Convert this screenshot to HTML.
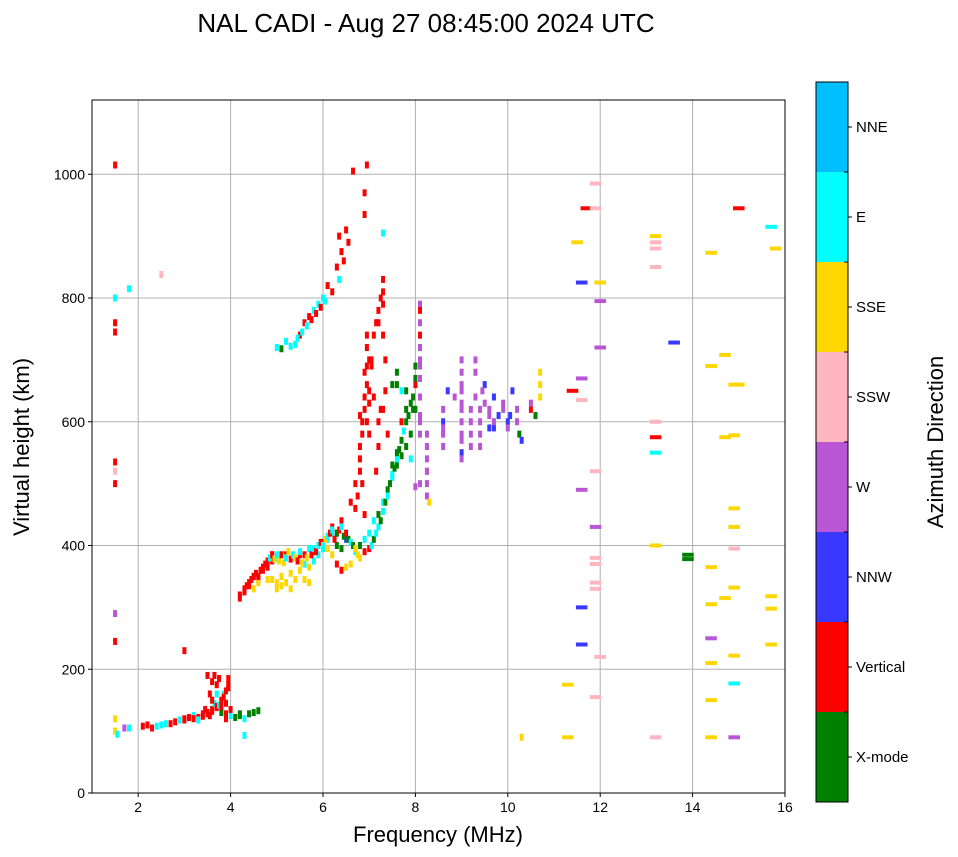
<!DOCTYPE html>
<html><head><meta charset="utf-8"><style>
body{margin:0;background:#fff;}
svg{display:block;font-family:"Liberation Sans",sans-serif;}
</style></head><body>
<svg id="chart" width="958" height="857"></svg>
<script>
const freqs=[1.5,1.5,1.55,1.7,1.8,2.1,2.2,2.4,2.6,2.8,2.9,3.0,3.1,3.2,3.3,3.4,3.5,3.6,3.65,3.7,3.8,3.85,3.9,3.95,3.95,3.7,3.5,3.8,4.0,4.2,4.4,4.6,4.3,3.9,4.0,3.6,3.55,3.0,1.5,1.5,4.3,
4.2,4.3,4.4,4.5,4.6,4.7,4.8,4.9,5.0,5.1,5.2,5.3,5.4,5.5,5.6,5.7,5.8,5.9,6.0,6.1,6.2,6.3,6.4,6.5,6.6,6.7,6.8,6.9,7.0,7.1,7.2,7.3,7.4,7.5,7.6,7.7,7.8,7.9,8.0,8.0,4.9,5.2,5.5,5.8,6.0,6.2,6.4,6.6,6.7,6.8,6.85,6.9,6.95,7.0,7.1,7.2,7.3,7.4,6.5,6.3,4.5,4.6,4.9,5.0,
5.0,5.2,5.4,5.5,5.6,5.7,5.8,5.9,6.0,6.1,6.3,6.4,6.5,6.65,6.9,6.9,7.3,7.3,7.2,7.0,6.95,7.6,7.7,7.5,7.8,
8.1,8.1,8.1,8.1,8.1,8.1,8.25,8.25,8.25,8.3,8.0,8.6,8.6,8.6,8.7,9.0,9.0,9.0,9.0,9.0,9.2,9.2,9.3,9.4,9.4,9.5,9.6,9.7,9.7,9.9,10.0,10.1,10.2,10.25,10.5,10.7,10.7,10.7,11.4,11.6,11.6,
11.5,11.7,11.9,11.9,12.0,12.0,12.0,11.6,11.6,11.9,11.9,11.9,11.9,11.9,11.9,11.6,11.6,12.0,11.9,11.3,11.3,10.3,13.2,13.2,13.2,13.2,13.2,13.2,13.2,13.2,13.2,13.6,13.9,13.9,14.4,14.4,14.7,14.9,14.9,14.7,14.9,14.9,14.9,14.4,14.9,14.4,14.7,14.4,14.9,14.4,14.9,14.4,14.4,14.9,15.0,15.7,15.8,15.7,15.7,15.7,15.0,
1.5,1.5,1.5,1.5,1.5,1.5,1.5,2.5,1.8,6.95,7.3,
// extra dense E trace
2.3,2.5,2.7,3.0,3.2,3.3,3.4,3.5,3.6,3.7,3.75,3.8,3.85,3.9,3.95,3.6,3.7,3.8,3.9,3.45,3.55,4.1,4.2,4.5,3.65,3.75,
// extra F lower
4.2,4.3,4.35,4.4,4.45,4.5,4.55,4.6,4.65,4.7,4.75,4.8,4.85,4.9,4.95,5.0,5.05,5.1,5.15,5.2,5.25,5.3,5.35,5.4,5.45,5.5,5.55,5.6,5.65,5.7,5.75,5.8,5.85,5.9,5.95,6.0,6.05,6.1,6.15,6.2,6.25,6.3,6.35,6.4,6.45,6.5,6.55,6.6,6.65,6.7,6.75,6.8,4.8,5.0,5.1,5.3,5.6,5.7,6.1,6.2,6.3,6.4,
// red columns
6.7,6.75,6.8,6.8,6.85,6.9,6.9,6.95,6.95,7.0,7.0,6.85,6.9,7.05,7.1,7.15,7.2,7.25,7.3,7.3,7.35,7.35,7.25,7.2,7.15,6.8,6.95,7.05,
// green/cyan trace
6.9,7.0,7.05,7.1,7.15,7.2,7.25,7.3,7.35,7.4,7.45,7.5,7.55,7.6,7.65,7.7,7.75,7.8,7.85,7.9,7.95,8.0,7.6,7.7,7.8,7.9,7.95,8.0,7.5,7.6,
// upper trace
5.1,5.3,5.45,5.55,5.65,5.75,5.85,5.95,6.05,6.2,6.35,6.45,6.55,6.35,
// purple clusters
8.1,8.1,8.1,8.1,8.1,8.1,8.1,8.25,8.25,8.25,8.25,8.25,8.6,8.6,8.85,9.0,9.0,9.0,9.0,9.0,9.0,9.2,9.2,9.3,9.3,9.4,9.4,9.45,9.5,9.6,9.6,9.7,9.8,9.9,10.0,10.05,10.2,10.3,10.5,10.6];
const heights=[100,120,95,105,105,108,110,108,112,115,118,120,122,125,122,128,130,135,145,140,150,160,145,170,185,175,190,130,125,125,128,133,120,120,135,150,160,230,245,290,93,
320,330,340,350,345,360,365,375,380,350,340,355,345,360,370,365,375,385,395,410,420,400,395,365,370,390,400,410,420,440,450,470,490,510,530,545,560,580,620,660,385,385,385,390,405,430,440,470,500,540,580,620,660,700,640,600,620,580,410,420,330,340,345,330,
720,730,725,740,760,770,780,790,800,820,850,875,910,1005,970,935,830,790,760,650,690,680,650,660,620,
790,760,720,690,640,610,560,520,480,470,495,600,580,560,650,680,650,620,580,550,600,560,700,620,580,660,610,640,590,630,600,650,620,580,620,640,680,660,650,635,670,
890,945,985,945,825,795,720,825,490,520,430,380,370,340,330,300,240,220,155,175,90,90,900,890,880,850,600,575,550,400,90,728,385,378,873,690,708,660,578,575,460,430,395,365,332,305,315,250,222,210,177,150,90,90,945,915,880,318,298,240,660,
800,760,745,535,520,500,1015,838,815,1015,905,
105,110,112,118,120,118,124,128,132,138,142,148,155,165,175,180,160,140,128,135,125,122,128,130,190,185,
315,325,335,335,345,350,355,350,360,365,370,375,380,385,378,385,375,385,372,380,390,378,385,380,375,390,372,385,380,395,385,395,390,400,405,400,410,415,420,425,410,420,425,430,415,420,410,405,400,395,385,380,345,340,335,330,345,340,395,385,370,360,
460,480,520,560,600,640,680,720,600,630,580,500,450,700,740,760,780,800,810,740,700,650,620,560,520,610,740,690,
390,395,400,410,420,430,440,455,470,480,500,515,525,540,555,570,585,600,610,630,640,670,660,600,650,540,620,690,530,550,
718,722,735,745,755,765,775,785,795,810,830,860,890,900,
780,740,700,670,600,580,500,580,560,540,520,500,620,590,640,700,660,630,600,570,540,580,620,680,640,600,560,650,630,590,620,600,610,620,590,610,600,570,630,610];
const directions=[5,5,6,3,6,1,1,6,6,1,6,1,1,6,1,1,1,1,6,1,1,6,1,1,1,1,1,0,6,0,0,0,6,1,1,1,1,1,1,3,6,
1,1,1,1,1,1,1,1,6,5,5,5,5,5,6,5,6,6,6,6,6,0,0,5,5,6,0,6,6,6,0,6,0,6,0,0,0,0,0,1,1,1,1,1,1,1,1,1,1,1,1,1,1,1,1,1,1,1,2,1,5,5,5,5,
6,6,6,1,1,1,6,6,6,1,1,1,1,1,1,1,1,1,1,1,1,0,6,0,0,
3,3,3,3,3,3,3,3,3,5,3,2,3,3,2,3,3,3,3,2,3,3,3,3,3,2,3,2,2,3,2,2,3,0,1,5,5,5,1,4,3,
5,1,4,4,5,3,3,2,3,4,3,4,4,4,4,2,2,4,4,5,5,5,5,4,4,4,4,1,6,5,4,2,0,0,5,5,5,5,5,5,5,5,4,5,5,5,5,3,5,5,6,5,5,3,1,6,5,5,5,5,5,
6,1,1,1,4,1,1,4,6,1,6,
1,6,1,1,1,6,1,1,1,1,6,1,1,1,1,1,6,1,1,1,1,0,0,0,1,1,
1,1,1,1,1,1,1,1,1,1,1,1,6,1,5,6,5,1,5,6,5,1,6,5,1,6,5,1,5,6,1,6,1,6,1,6,5,6,1,6,1,0,1,6,0,1,0,6,0,5,5,5,5,5,5,5,5,5,5,5,1,1,1,1,
1,1,1,1,1,1,1,1,1,1,1,1,1,1,1,1,1,1,1,1,1,1,1,1,1,1,1,1,
6,0,6,6,0,6,0,6,0,6,0,6,0,0,6,0,0,0,0,0,0,1,0,6,0,0,0,0,0,6,
6,6,6,1,1,1,6,1,6,1,1,1,1,1,
3,3,3,3,3,3,3,3,3,3,3,3,3,3,3,3,3,3,3,3,3,3,3,3,3,3,3,2,3,3,2,3,3,2,3,2,3,0,1,3];
const dirNames=["X-mode","Vertical","NNW","W","SSW","SSE","E","NNE"];
const dirColors=["#008000","#ff0000","#3838ff","#b856d6","#ffb6c1","#ffd700","#00ffff","#00bfff"];
const xTicks=[2,4,6,8,10,12,14,16];
const yTicks=[0,200,400,600,800,1000];

const NS="http://www.w3.org/2000/svg";
const svg=document.getElementById('chart');
const L=92,R=785,T=100,B=793,XMIN=1,XMAX=16,YMIN=0,YMAX=1120;
const xs=f=>L+(f-XMIN)/(XMAX-XMIN)*(R-L);
const ys=h=>B-(h-YMIN)/(YMAX-YMIN)*(B-T);
function el(tag,attrs,parent){const e=document.createElementNS(NS,tag);for(const k in attrs)e.setAttribute(k,attrs[k]);(parent||svg).appendChild(e);return e;}
function txt(s,attrs){const e=el('text',attrs);e.textContent=s;return e;}

const title=txt("NAL CADI - Aug 27 08:45:00 2024 UTC",{x:426,y:32,'font-size':26,'text-anchor':'middle'});



xTicks.forEach(t=>{const x=xs(t);
 const g=el('line',{x1:x,x2:x,y1:T,y2:B,stroke:'#b0b0b0','stroke-width':1});
 
 el('line',{x1:x,x2:x,y1:B,y2:B+4,stroke:'#000'});
 const l=txt(String(t),{x:x,y:B+19,'font-size':14,'text-anchor':'middle'});
 });
yTicks.forEach(t=>{const y=ys(t);
 const g=el('line',{x1:L,x2:R,y1:y,y2:y,stroke:'#b0b0b0','stroke-width':1});
 
 el('line',{x1:L-4,x2:L,y1:y,y2:y,stroke:'#000'});
 const l=txt(String(t),{x:L-7,y:y+5,'font-size':14,'text-anchor':'end'});
 });

freqs.forEach((f,i)=>{
 const w=f>10.8?(xs(f+0.25)-xs(f)):4;
 const h=f>10.8?4:7;
 const r=el('rect',{x:xs(f)-w/2,y:ys(heights[i])-h/2,width:w,height:h,fill:dirColors[directions[i]]});
 
 
});

const frame=el('rect',{x:L,y:T,width:R-L,height:B-T,fill:'none',stroke:'#000','stroke-width':1});


const xl=txt("Frequency (MHz)",{x:438,y:842,'font-size':22,'text-anchor':'middle'});

const yl=txt("Virtual height (km)",{x:0,y:0,'font-size':22,'text-anchor':'middle',transform:'translate(29,447) rotate(-90)'});


const CB_T=82,CB_B=802,CB_L=816,CB_W=32,seg=(CB_B-CB_T)/dirNames.length;
dirNames.forEach((n,i)=>{
 const y0=CB_B-(i+1)*seg;
 const r=el('rect',{x:CB_L,y:y0,width:CB_W,height:seg,fill:dirColors[i]});
 
 el('line',{x1:CB_L+CB_W,x2:CB_L+CB_W+4,y1:y0+seg/2,y2:y0+seg/2,stroke:'#000'});
 const l=txt(n,{x:CB_L+CB_W+8,y:y0+seg/2+5,'font-size':15});
 
});
for(let i=0;i<=dirNames.length;i++){const y=CB_T+i*seg;el('line',{x1:CB_L+CB_W-4,x2:CB_L+CB_W,y1:y,y2:y,stroke:'#000'});}
const cbf=el('rect',{x:CB_L,y:CB_T,width:CB_W,height:CB_B-CB_T,fill:'none',stroke:'#000'});

const ct=txt("Azimuth Direction",{x:0,y:0,'font-size':22,'text-anchor':'middle',transform:'translate(943,442) rotate(-90)'});

</script>
</body></html>
